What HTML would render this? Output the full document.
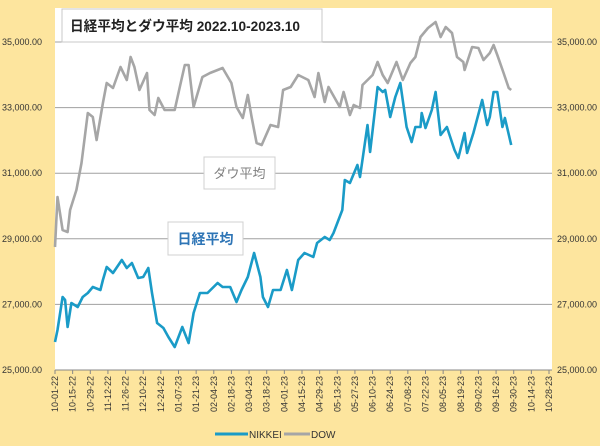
<!DOCTYPE html>
<html><head><meta charset="utf-8">
<style>
html,body{margin:0;padding:0;background:#fde59e;}
svg{display:block;font-family:"Liberation Sans","Noto Sans CJK JP",sans-serif;}
</style></head>
<body>
<svg id="chart" width="600" height="446" viewBox="0 0 600 446">
<rect x="0" y="0" width="600" height="446" fill="#fde59e"/>
<rect x="55" y="8" width="497" height="362" fill="#ffffff"/>
<g id="grid"></g>
<g id="xaxis"></g>
<g id="series"></g>
<g>
<rect x="62" y="9" width="260" height="33" fill="#fff" stroke="#c8c8c8" stroke-width="1"/>
<text x="70" y="31" font-size="14" font-weight="bold" fill="#222" textLength="230" lengthAdjust="spacingAndGlyphs">日経平均とダウ平均 2022.10-2023.10</text>
</g>
<g>
<rect x="204" y="157" width="71" height="32" fill="#fff" stroke="#d0d0d0"/>
<text x="239.5" y="178" font-size="13" fill="#808080" text-anchor="middle">ダウ平均</text>
</g>
<g>
<rect x="168" y="222" width="75" height="33" fill="#fff" stroke="#d0d0d0"/>
<text x="205.5" y="244" font-size="14" font-weight="bold" fill="#2e75b6" text-anchor="middle">日経平均</text>
</g>
<g>
<line x1="215" y1="434" x2="248" y2="434" stroke="#1a9bc7" stroke-width="3"/>
<text x="249" y="438" font-size="10" fill="#333">NIKKEI</text>
<line x1="284" y1="434" x2="310" y2="434" stroke="#a6a6a6" stroke-width="3"/>
<text x="311" y="438" font-size="10" fill="#333">DOW</text>
</g>
</svg>
<script>
const yTicks=[25000,27000,29000,31000,33000,35000];
const xTickLabels=["10-01-22","10-15-22","10-29-22","11-12-22","11-26-22","12-10-22","12-24-22","01-07-23","01-21-23","02-04-23","02-18-23","03-04-23","03-18-23","04-01-23","04-15-23","04-29-23","05-13-23","05-27-23","06-10-23","06-24-23","07-08-23","07-22-23","08-05-23","08-19-23","09-02-23","09-16-23","09-30-23","10-14-23","10-28-23"];
const dowDays=[0,2,6,10,12,17,21,26,30,33,38,41,46,52,57,60,63,67,73,75,79,82,87,95,99,103,106,110,117,123,129,133,140,144,149,153,156,160,164,171,177,181,187,193,201,206,209,214,217,226,229,234,237,242,244,252,256,260,264,271,276,282,286,290,296,302,306,310,315,319,324,325,331,336,340,345,348,351,356,360,362];
const dowValues=[28750,30274,29268,29207,29878,30488,31311,32835,32713,32012,33140,33750,33597,34238,33841,34543,34238,33536,34055,32927,32774,33293,32927,32927,33628,34299,34299,33018,33933,34055,34146,34207,33750,33018,32683,33384,32713,31920,31860,32469,32408,33536,33628,33994,33841,33323,34055,33171,33628,33018,33476,32774,33079,32988,33689,33994,34390,33994,33750,34390,33841,34360,34543,35152,35427,35610,35152,35457,35274,34543,34390,34146,34848,34817,34451,34665,34909,34604,34055,33597,33536];
const nikkeiDays=[0,2,6,8,10,13,18,22,26,30,36,38,41,46,53,57,61,66,70,74,77,81,86,90,95,101,106,110,115,121,129,133,139,144,148,153,158,163,165,169,173,179,184,188,193,198,205,208,214,218,221,228,230,234,240,242,248,250,256,260,262,266,270,274,279,283,286,290,291,294,299,302,306,311,317,320,325,327,332,339,343,345,348,351,355,357,362];
const nikkeiValues=[25853,26219,27225,27134,26311,27042,26920,27225,27347,27530,27439,27744,28140,27957,28354,28110,28262,27805,27835,28110,27347,26433,26280,26006,25701,26311,25823,26738,27347,27347,27652,27530,27530,27073,27439,27835,28567,27835,27225,26920,27439,27439,28049,27439,28354,28567,28445,28871,29054,28963,29176,29878,30793,30701,31250,30884,32469,31646,33628,33476,33536,32713,33323,33750,32408,31951,32408,32408,32835,32378,32927,33476,32165,32408,31707,31463,32226,31616,32226,33232,32469,32713,33476,33476,32408,32683,31860];
const NS="http://www.w3.org/2000/svg";
const X0=55,PX_PER_DAY=494/392;
const xScale=d=>X0+d*PX_PER_DAY;
const yScale=v=>370-(v-25000)*(328/10000);
function mk(tag,attrs,parent){const e=document.createElementNS(NS,tag);for(const k in attrs)e.setAttribute(k,attrs[k]);parent.appendChild(e);return e;}
const grid=document.getElementById('grid');
yTicks.forEach(v=>{
  const y=yScale(v);
  const ln=mk('line',{x1:X0,x2:552,y1:y,y2:y,stroke:'#a0a0a0','stroke-width':1},grid);
  
  
  const s=v.toLocaleString('en-US')+'.00';
  const tl=mk('text',{x:2,y:y+3,'font-size':9,fill:'#333'},grid);tl.textContent=s;
  
  
  const tr=mk('text',{x:557,y:y+3,'font-size':9,fill:'#333'},grid);tr.textContent=s;
  
  
});
const xa=document.getElementById('xaxis');
const ax=mk('line',{x1:X0,x2:552,y1:370,y2:370,stroke:'#888'},xa);


xTickLabels.forEach((lab,i)=>{
  const x=xScale(i*14);
  const tk=mk('line',{x1:x,x2:x,y1:370,y2:374,stroke:'#888'},xa);
  
  
  const t=mk('text',{x:0,y:0,'font-size':9,fill:'#333','text-anchor':'end',transform:`translate(${x+3},376) rotate(-90)`},xa);
  t.textContent=lab;
  
  
});
const ser=document.getElementById('series');
function line(days,vals,color,name){
  const d=days.map((dd,i)=>(i?'L':'M')+xScale(dd).toFixed(1)+','+yScale(vals[i]).toFixed(1)).join(' ');
  const p=mk('path',{d:d,fill:'none',stroke:color,'stroke-width':2.6,'stroke-linejoin':'round'},ser);
  
  
}
line(dowDays,dowValues,'#a6a6a6','dow-line');
line(nikkeiDays,nikkeiValues,'#1a9bc7','nikkei-line');
</script>
</body></html>
